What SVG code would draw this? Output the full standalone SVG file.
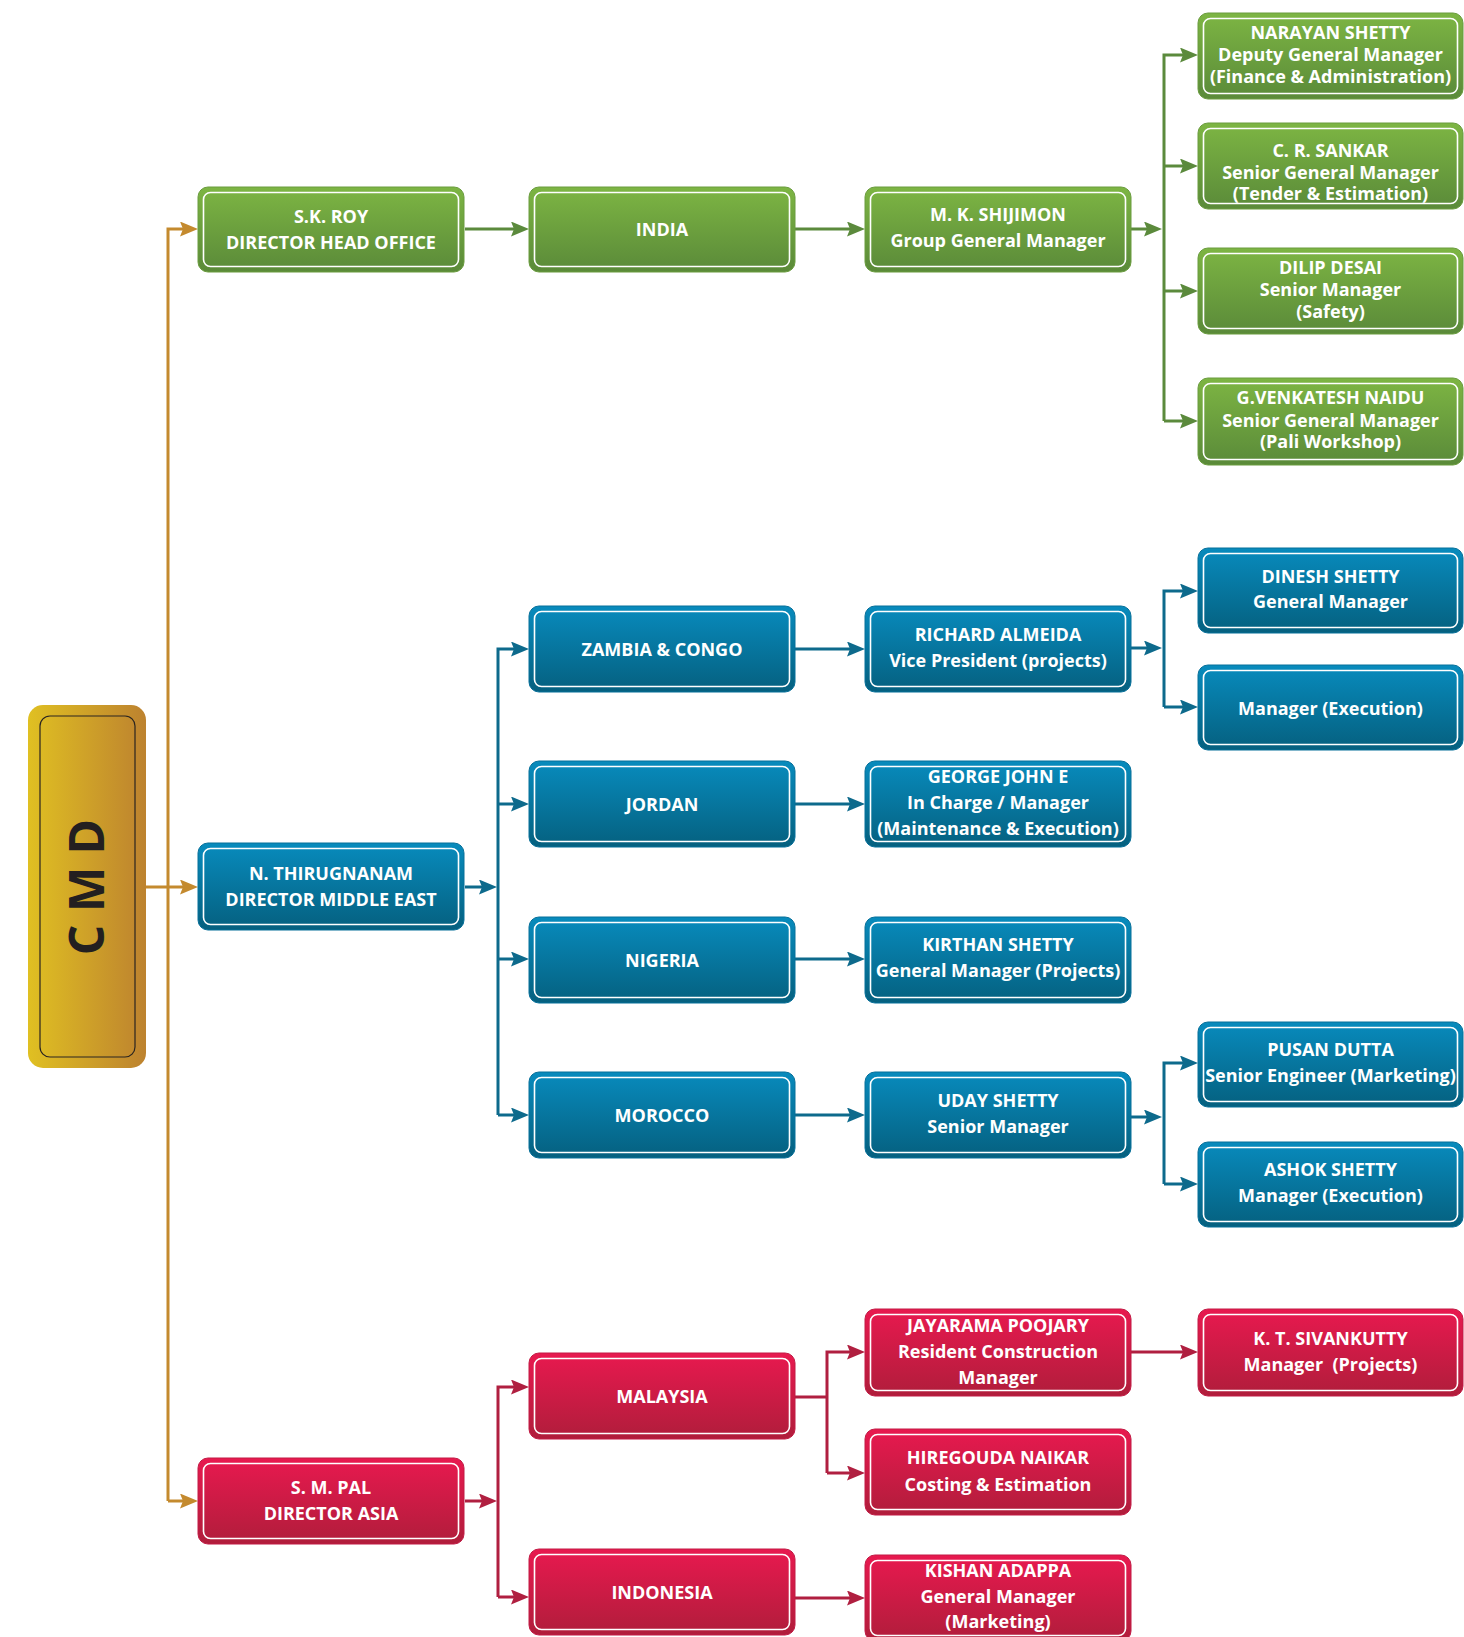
<svg xmlns="http://www.w3.org/2000/svg" width="1464" height="1637" viewBox="0 0 1464 1637">
<defs>
<linearGradient id="gG" x1="0" y1="0" x2="0" y2="1"><stop offset="0" stop-color="#7db543"/><stop offset="1" stop-color="#5a8a39"/></linearGradient>
<linearGradient id="gB" x1="0" y1="0" x2="0" y2="1"><stop offset="0" stop-color="#088bbd"/><stop offset="1" stop-color="#05607f"/></linearGradient>
<linearGradient id="gR" x1="0" y1="0" x2="0" y2="1"><stop offset="0" stop-color="#e8194f"/><stop offset="1" stop-color="#b01d3b"/></linearGradient>
<linearGradient id="gC" x1="0" y1="0" x2="1" y2="0"><stop offset="0" stop-color="#e0c022"/><stop offset="1" stop-color="#bd822f"/></linearGradient>
<marker id="aO" viewBox="0 0 18 15" refX="8" refY="7.5" markerWidth="18" markerHeight="15" markerUnits="userSpaceOnUse" orient="auto"><path d="M0 0 L18 7.5 L0 15 L3 7.5 z" fill="#c48a2e"/></marker>
<marker id="aG" viewBox="0 0 18 15" refX="8" refY="7.5" markerWidth="18" markerHeight="15" markerUnits="userSpaceOnUse" orient="auto"><path d="M0 0 L18 7.5 L0 15 L3 7.5 z" fill="#5b8a3c"/></marker>
<marker id="aB" viewBox="0 0 18 15" refX="8" refY="7.5" markerWidth="18" markerHeight="15" markerUnits="userSpaceOnUse" orient="auto"><path d="M0 0 L18 7.5 L0 15 L3 7.5 z" fill="#0d6a8c"/></marker>
<marker id="aR" viewBox="0 0 18 15" refX="8" refY="7.5" markerWidth="18" markerHeight="15" markerUnits="userSpaceOnUse" orient="auto"><path d="M0 0 L18 7.5 L0 15 L3 7.5 z" fill="#b01f40"/></marker>
</defs>
<style>
.outer{stroke-width:1}
.green .outer{fill:url(#gG);stroke:#6a9c3e}
.blue .outer{fill:url(#gB);stroke:#07709a}
.red .outer{fill:url(#gR);stroke:#c21b45}
.inner{fill:none;stroke:#ffffff;stroke-width:1.6}
.node text{font-family:"Open Sans","Liberation Sans",sans-serif;font-weight:700;font-size:18px;fill:#ffffff;text-anchor:middle}
.c{fill:none;stroke-width:3;stroke-linejoin:miter}
.co{stroke:#c48a2e}
.cg{stroke:#5b8a3c}
.cb{stroke:#0d6a8c}
.cr{stroke:#b01f40}
</style>
<rect width="1464" height="1637" fill="#ffffff"/>

<g id="connectors">
<path class="c co" d="M168 1501 V229 H188" marker-end="url(#aO)"/>
<path class="c co" d="M146 887 H188" marker-end="url(#aO)"/>
<path class="c co" d="M168 1501 H188" marker-end="url(#aO)"/>

<path class="c cg" d="M465 229 H519" marker-end="url(#aG)"/>
<path class="c cg" d="M794 229 H855" marker-end="url(#aG)"/>
<path class="c cg" d="M1130 229 H1152" marker-end="url(#aG)"/>
<path class="c cg" d="M1164 421 V55 H1188" marker-end="url(#aG)"/>
<path class="c cg" d="M1164 166 H1188" marker-end="url(#aG)"/>
<path class="c cg" d="M1164 291 H1188" marker-end="url(#aG)"/>
<path class="c cg" d="M1164 421 H1188" marker-end="url(#aG)"/>

<path class="c cb" d="M465 887 H487" marker-end="url(#aB)"/>
<path class="c cb" d="M498 1115 V649 H519" marker-end="url(#aB)"/>
<path class="c cb" d="M498 804 H519" marker-end="url(#aB)"/>
<path class="c cb" d="M498 959 H519" marker-end="url(#aB)"/>
<path class="c cb" d="M498 1115 H519" marker-end="url(#aB)"/>
<path class="c cb" d="M794 649 H855" marker-end="url(#aB)"/>
<path class="c cb" d="M794 804 H855" marker-end="url(#aB)"/>
<path class="c cb" d="M794 959 H855" marker-end="url(#aB)"/>
<path class="c cb" d="M794 1115 H855" marker-end="url(#aB)"/>
<path class="c cb" d="M1130 648 H1152" marker-end="url(#aB)"/>
<path class="c cb" d="M1164 707 V591 H1188" marker-end="url(#aB)"/>
<path class="c cb" d="M1164 707 H1188" marker-end="url(#aB)"/>
<path class="c cb" d="M1130 1117 H1152" marker-end="url(#aB)"/>
<path class="c cb" d="M1164 1184 V1063 H1188" marker-end="url(#aB)"/>
<path class="c cb" d="M1164 1184 H1188" marker-end="url(#aB)"/>

<path class="c cr" d="M465 1501 H487" marker-end="url(#aR)"/>
<path class="c cr" d="M498 1597 V1387 H519" marker-end="url(#aR)"/>
<path class="c cr" d="M498 1597 H519" marker-end="url(#aR)"/>
<path class="c cr" d="M794 1397 H827"/>
<path class="c cr" d="M827 1473 V1352 H855" marker-end="url(#aR)"/>
<path class="c cr" d="M827 1473 H855" marker-end="url(#aR)"/>
<path class="c cr" d="M1130 1352 H1188" marker-end="url(#aR)"/>
<path class="c cr" d="M794 1598 H855" marker-end="url(#aR)"/>
</g>

<g id="n-cmd">
<rect x="28" y="705" width="118" height="363" rx="15" fill="url(#gC)"/>
<rect x="40" y="716" width="95" height="341" rx="10" fill="none" stroke="#2a2420" stroke-width="1.2"/>
<text x="87" y="887" transform="rotate(-90 87 887)" dy="17" font-family="'Open Sans','Liberation Sans',sans-serif" font-weight="700" font-size="48" fill="#231f20" text-anchor="middle">C M D</text>
</g>

<!-- Green -->
<g id="n-skroy" class="node green"><rect class="outer" x="198" y="187" width="266" height="85" rx="10"/><rect class="inner" x="203.5" y="192.5" width="255" height="74" rx="7"/><text><tspan x="331" y="223">S.K. ROY</tspan><tspan x="331" y="249">DIRECTOR HEAD OFFICE</tspan></text></g>
<g id="n-india" class="node green"><rect class="outer" x="529" y="187" width="266" height="85" rx="10"/><rect class="inner" x="534.5" y="192.5" width="255" height="74" rx="7"/><text><tspan x="662" y="236">INDIA</tspan></text></g>
<g id="n-shijimon" class="node green"><rect class="outer" x="865" y="187" width="266" height="85" rx="10"/><rect class="inner" x="870.5" y="192.5" width="255" height="74" rx="7"/><text><tspan x="998" y="221">M. K. SHIJIMON</tspan><tspan x="998" y="247">Group General Manager</tspan></text></g>
<g id="n-narayan" class="node green"><rect class="outer" x="1198" y="13" width="265" height="86" rx="10"/><rect class="inner" x="1203.5" y="18.5" width="254" height="75" rx="7"/><text><tspan x="1330.5" y="39">NARAYAN SHETTY</tspan><tspan x="1330.5" y="61">Deputy General Manager</tspan><tspan x="1330.5" y="83">(Finance &amp; Administration)</tspan></text></g>
<g id="n-sankar" class="node green"><rect class="outer" x="1198" y="123" width="265" height="86" rx="10"/><rect class="inner" x="1203.5" y="128.5" width="254" height="75" rx="7"/><text><tspan x="1330.5" y="157">C. R. SANKAR</tspan><tspan x="1330.5" y="179">Senior General Manager</tspan><tspan x="1330.5" y="200">(Tender &amp; Estimation)</tspan></text></g>
<g id="n-dilip" class="node green"><rect class="outer" x="1198" y="248" width="265" height="86" rx="10"/><rect class="inner" x="1203.5" y="253.5" width="254" height="75" rx="7"/><text><tspan x="1330.5" y="274">DILIP DESAI</tspan><tspan x="1330.5" y="296">Senior Manager</tspan><tspan x="1330.5" y="318">(Safety)</tspan></text></g>
<g id="n-venkatesh" class="node green"><rect class="outer" x="1198" y="378" width="265" height="87" rx="10"/><rect class="inner" x="1203.5" y="383.5" width="254" height="76" rx="7"/><text><tspan x="1330.5" y="404">G.VENKATESH NAIDU</tspan><tspan x="1330.5" y="427">Senior General Manager</tspan><tspan x="1330.5" y="448">(Pali Workshop)</tspan></text></g>

<!-- Blue -->
<g id="n-thirugnanam" class="node blue"><rect class="outer" x="198" y="843" width="266" height="87" rx="10"/><rect class="inner" x="203.5" y="848.5" width="255" height="76" rx="7"/><text><tspan x="331" y="880">N. THIRUGNANAM</tspan><tspan x="331" y="906">DIRECTOR MIDDLE EAST</tspan></text></g>
<g id="n-zambia" class="node blue"><rect class="outer" x="529" y="606" width="266" height="86" rx="10"/><rect class="inner" x="534.5" y="611.5" width="255" height="75" rx="7"/><text><tspan x="662" y="656">ZAMBIA &amp; CONGO</tspan></text></g>
<g id="n-jordan" class="node blue"><rect class="outer" x="529" y="761" width="266" height="86" rx="10"/><rect class="inner" x="534.5" y="766.5" width="255" height="75" rx="7"/><text><tspan x="662" y="811">JORDAN</tspan></text></g>
<g id="n-nigeria" class="node blue"><rect class="outer" x="529" y="917" width="266" height="86" rx="10"/><rect class="inner" x="534.5" y="922.5" width="255" height="75" rx="7"/><text><tspan x="662" y="967">NIGERIA</tspan></text></g>
<g id="n-morocco" class="node blue"><rect class="outer" x="529" y="1072" width="266" height="86" rx="10"/><rect class="inner" x="534.5" y="1077.5" width="255" height="75" rx="7"/><text><tspan x="662" y="1122">MOROCCO</tspan></text></g>
<g id="n-richard" class="node blue"><rect class="outer" x="865" y="606" width="266" height="86" rx="10"/><rect class="inner" x="870.5" y="611.5" width="255" height="75" rx="7"/><text><tspan x="998" y="641">RICHARD ALMEIDA</tspan><tspan x="998" y="667">Vice President (projects)</tspan></text></g>
<g id="n-george" class="node blue"><rect class="outer" x="865" y="761" width="266" height="86" rx="10"/><rect class="inner" x="870.5" y="766.5" width="255" height="75" rx="7"/><text><tspan x="998" y="783">GEORGE JOHN E</tspan><tspan x="998" y="809">In Charge / Manager</tspan><tspan x="998" y="835">(Maintenance &amp; Execution)</tspan></text></g>
<g id="n-kirthan" class="node blue"><rect class="outer" x="865" y="917" width="266" height="86" rx="10"/><rect class="inner" x="870.5" y="922.5" width="255" height="75" rx="7"/><text><tspan x="998" y="951">KIRTHAN SHETTY</tspan><tspan x="998" y="977">General Manager (Projects)</tspan></text></g>
<g id="n-uday" class="node blue"><rect class="outer" x="865" y="1072" width="266" height="86" rx="10"/><rect class="inner" x="870.5" y="1077.5" width="255" height="75" rx="7"/><text><tspan x="998" y="1107">UDAY SHETTY</tspan><tspan x="998" y="1133">Senior Manager</tspan></text></g>
<g id="n-dinesh" class="node blue"><rect class="outer" x="1198" y="548" width="265" height="85" rx="10"/><rect class="inner" x="1203.5" y="553.5" width="254" height="74" rx="7"/><text><tspan x="1330.5" y="583">DINESH SHETTY</tspan><tspan x="1330.5" y="608">General Manager</tspan></text></g>
<g id="n-mgrexec" class="node blue"><rect class="outer" x="1198" y="665" width="265" height="85" rx="10"/><rect class="inner" x="1203.5" y="670.5" width="254" height="74" rx="7"/><text><tspan x="1330.5" y="715">Manager (Execution)</tspan></text></g>
<g id="n-pusan" class="node blue"><rect class="outer" x="1198" y="1022" width="265" height="85" rx="10"/><rect class="inner" x="1203.5" y="1027.5" width="254" height="74" rx="7"/><text><tspan x="1330.5" y="1056">PUSAN DUTTA</tspan><tspan x="1330.5" y="1082">Senior Engineer (Marketing)</tspan></text></g>
<g id="n-ashok" class="node blue"><rect class="outer" x="1198" y="1142" width="265" height="85" rx="10"/><rect class="inner" x="1203.5" y="1147.5" width="254" height="74" rx="7"/><text><tspan x="1330.5" y="1176">ASHOK SHETTY</tspan><tspan x="1330.5" y="1202">Manager (Execution)</tspan></text></g>

<!-- Red -->
<g id="n-smpal" class="node red"><rect class="outer" x="198" y="1458" width="266" height="86" rx="10"/><rect class="inner" x="203.5" y="1463.5" width="255" height="75" rx="7"/><text><tspan x="331" y="1494">S. M. PAL</tspan><tspan x="331" y="1520">DIRECTOR ASIA</tspan></text></g>
<g id="n-malaysia" class="node red"><rect class="outer" x="529" y="1353" width="266" height="86" rx="10"/><rect class="inner" x="534.5" y="1358.5" width="255" height="75" rx="7"/><text><tspan x="662" y="1403">MALAYSIA</tspan></text></g>
<g id="n-indonesia" class="node red"><rect class="outer" x="529" y="1549" width="266" height="86" rx="10"/><rect class="inner" x="534.5" y="1554.5" width="255" height="75" rx="7"/><text><tspan x="662" y="1599">INDONESIA</tspan></text></g>
<g id="n-jayarama" class="node red"><rect class="outer" x="865" y="1309" width="266" height="87" rx="10"/><rect class="inner" x="870.5" y="1314.5" width="255" height="76" rx="7"/><text><tspan x="998" y="1332">JAYARAMA POOJARY</tspan><tspan x="998" y="1358">Resident Construction</tspan><tspan x="998" y="1384">Manager</tspan></text></g>
<g id="n-hiregouda" class="node red"><rect class="outer" x="865" y="1429" width="266" height="86" rx="10"/><rect class="inner" x="870.5" y="1434.5" width="255" height="75" rx="7"/><text><tspan x="998" y="1464">HIREGOUDA NAIKAR</tspan><tspan x="998" y="1491">Costing &amp; Estimation</tspan></text></g>
<g id="n-kishan" class="node red"><rect class="outer" x="865" y="1555" width="266" height="86" rx="10"/><rect class="inner" x="870.5" y="1560.5" width="255" height="75" rx="7"/><text><tspan x="998" y="1577">KISHAN ADAPPA</tspan><tspan x="998" y="1603">General Manager</tspan><tspan x="998" y="1628">(Marketing)</tspan></text></g>
<g id="n-sivankutty" class="node red"><rect class="outer" x="1198" y="1309" width="265" height="87" rx="10"/><rect class="inner" x="1203.5" y="1314.5" width="254" height="76" rx="7"/><text style="white-space:pre"><tspan x="1330.5" y="1345">K. T. SIVANKUTTY</tspan><tspan x="1330.5" y="1371">Manager  (Projects)</tspan></text></g>
</svg>
